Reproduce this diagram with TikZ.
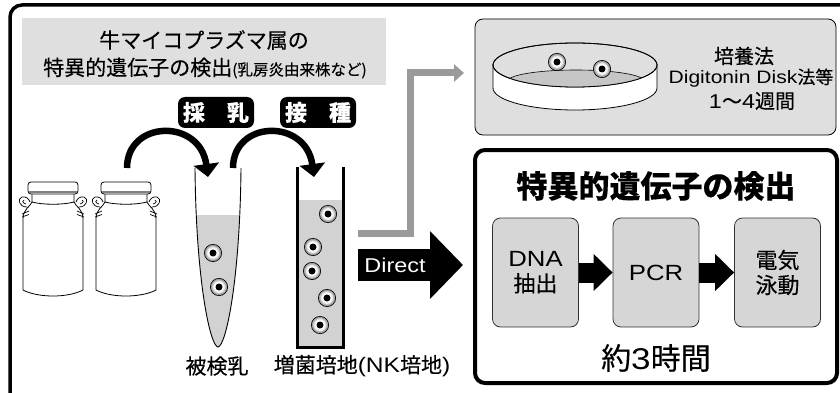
\documentclass[tikz,border=0pt]{standalone}
\usepackage{fontspec}
\setmainfont{Noto Sans CJK JP}[FakeBold=0.3]
\newfontfamily\latin{Liberation Sans}[FakeStretch=1.17]
\usetikzlibrary{arrows.meta}

\definecolor{panelgray}{HTML}{DFDFDF}
\definecolor{liquid}{HTML}{D2D2D2}
\definecolor{stepgray}{HTML}{D6D6D6}
\definecolor{floorgray}{HTML}{C6C6C6}
\definecolor{routegray}{HTML}{9A9A9A}

\newcommand{\fsz}[1]{\fontsize{#1pt}{#1pt}\selectfont}

\tikzset{
  panel/.style={fill=panelgray, draw=black, line width=0.8pt, rounded corners=8pt},
  tag/.style={fill=black, text=white, rounded corners=7pt, minimum width=76pt,
              minimum height=31pt, inner sep=0pt, font=\fsz{22}\bfseries},
  stepbox/.style={fill=stepgray, draw=black!80, line width=0.8pt, rounded corners=8pt,
                  minimum width=86pt, minimum height=109pt, inner sep=0pt,
                  align=center, font=\fsz{22}},
  curvarrow/.style={line width=6.5pt, -{Triangle[length=13pt,width=25pt]}},
  steparrow/.style={line width=20pt, -{Triangle[length=19pt,width=36pt]}},
  tubelabel/.style={font=\fsz{21}, inner sep=0pt},
  cell/.pic={
    \fill[black] (0,0) circle (9);
    \fill[gray!75] (0,0) circle (8.2);
    \fill[gray!45] (0,0) circle (7);
    \fill[gray!15] (0,0) circle (6);
    \fill[white] (0,0) circle (5);
    \fill[black] (0,0) circle (3.5);
  },
  milkcan/.pic={
    % body with shoulders
    \filldraw[fill=white, line width=0.8pt]
      (-21,202) .. controls (-23,207) and (-30,209) .. (-30,219)
      -- (-30,290) .. controls (-15,298) and (15,298) .. (30,290)
      -- (30,219) .. controls (30,209) and (23,207) .. (21,202) -- cycle;
    % neck
    \filldraw[fill=white, line width=0.8pt]
      (-21,193) -- (-21,202) .. controls (-10,205) and (10,205) .. (21,202) -- (21,193) -- cycle;
    % lid
    \filldraw[fill=white, line width=0.8pt, rounded corners=3pt] (-25,182) rectangle (25,194);
    \draw[gray, line width=1.8pt] (-24,191.6) -- (24,191.6);
    % handles
    \draw[line width=0.7pt] (-26,207) .. controls (-34,207) and (-36,199) .. (-31,197)
      .. controls (-27,196) and (-24,199) .. (-23,202);
    \draw[line width=0.7pt] (-27,204) .. controls (-31,203) and (-31,200) .. (-29,200);
    \draw[line width=0.7pt] (26,207) .. controls (34,207) and (36,199) .. (31,197)
      .. controls (27,196) and (24,199) .. (23,202);
    \draw[line width=0.7pt] (27,204) .. controls (31,203) and (31,200) .. (29,200);
    % clips below the handles
    \draw[line width=0.7pt] (-31,214) -- (-24,211) (-31,217) -- (-24,214.5);
    \draw[line width=0.7pt] (31,214) -- (24,211) (31,217) -- (24,214.5);
  }
}

\begin{document}
\begin{tikzpicture}[x=1pt, y=-1pt]
\useasboundingbox (0,0) rectangle (840,393);
\fill[white] (0,0) rectangle (840,393);
\clip (0,0) rectangle (840,393);

% outer frame
\draw[line width=3.5pt, rounded corners=12pt] (10,5) rectangle (880,420);

% heading panel
\node[fill=panelgray, minimum width=364pt, minimum height=67pt, inner sep=0pt] (head) at (204,51.5) {};
\node[font=\fsz{21}, inner sep=0pt] (head1) at (204,40) {牛マイコプラズマ属の};
\node[font=\fsz{21}, inner sep=0pt] (head2) at (205,68) {特異的遺伝子の検出{\fsz{15.5}(乳房炎由来株など)}};

% step tags
\node[tag] (sainyu) at (216,112.5) {採　乳};
\node[tag] (sesshu) at (318,112.5) {接　種};

% milk cans
\pic at (53,0) {milkcan};
\pic at (126,0) {milkcan};

% curved transfer arrows
\coordinate (c1s) at (127,168);
\coordinate (c1e) at (208,177);
\coordinate (c2s) at (233,168);
\coordinate (c2e) at (314,177);
\draw[curvarrow] (c1s) .. controls (127,120) and (200,118) .. (c1e);
\draw[curvarrow] (c2s) .. controls (233,120) and (306,118) .. (c2e);

% conical sample tube
\begin{scope}
  \clip (195,168) .. controls (196,280) and (210,346) .. (218,347)
        .. controls (226,346) and (240,280) .. (241,168) -- cycle;
  \fill[liquid] (185,215) rectangle (250,350);
\end{scope}
\draw[line width=0.9pt] (195,168) .. controls (196,280) and (210,346) .. (218,347)
      .. controls (226,346) and (240,280) .. (241,168);
\pic at (213,253) {cell};
\pic at (219,287) {cell};

% culture tube
\fill[liquid] (297,200) rectangle (343,347);
\draw[line width=3pt] (297,167) -- (297,347) -- (343,347) -- (343,167);
\pic at (328,214) {cell};
\pic at (313,247) {cell};
\pic at (312,271) {cell};
\pic at (327,298) {cell};
\pic at (320,325) {cell};

% tube labels
\node[tubelabel] (milk) at (217,366) {被検乳};
\node[tubelabel] (broth) at (362,366) {増菌培地{\latin(NK}培地{\latin)}};

% route to culture method
\coordinate (rs) at (358,233);
\coordinate (re) at (464,73);
\draw[routegray, line width=7pt, -{Triangle[length=10pt,width=17pt]}] (rs) -| (410,73) -- (re);

% direct route
\coordinate (ds) at (358,265);
\coordinate (de) at (463,265);
\draw[line width=32pt, -{Triangle[length=33pt,width=66pt]}] (ds) -- (de);
\node[text=white, font=\latin\fsz{20}, inner sep=0pt] (direct) at (395,265) {Direct};

% culture method panel
\node[panel, minimum width=361pt, minimum height=116pt] (culture) at (655.5,77) {};
% petri dish
\filldraw[fill=white, line width=0.8pt] (493,65) -- (493,88)
   arc[start angle=180, end angle=0, x radius=82, y radius=22] -- (657,65) -- cycle;
\filldraw[fill=panelgray, line width=0.8pt] (575,65) ellipse [x radius=82, y radius=22];
\begin{scope}
  \clip (575,65) ellipse [x radius=82, y radius=22];
  \filldraw[fill=floorgray, line width=0.6pt] (576,81) ellipse [x radius=68, y radius=11];
\end{scope}
\draw[line width=0.8pt] (575,65) ellipse [x radius=82, y radius=22];
\pic at (557,62) {cell};
\pic at (602,69) {cell};
\node[font=\fsz{20}, inner sep=0pt] (cm1) at (744,56) {培養法};
\node[font=\fsz{18}, inner sep=0pt] (cm2) at (751,78) {{\latin Digitonin Disk}法等};
\node[font=\fsz{20}, inner sep=0pt] (cm3) at (752,101) {{\latin 1}～{\latin 4}週間};

% gene detection panel
\node[draw=black, line width=4pt, rounded corners=10pt, fill=white,
      minimum width=362pt, minimum height=233pt] (detect) at (656,266.5) {};
\node[font=\fsz{31}\bfseries, inner sep=0pt] (dtitle) at (656,186) {特異的遺伝子の検出};
\node[stepbox] (dna) at (535.5,272.5) {{\latin DNA}\\[3pt]抽出};
\node[stepbox] (pcr) at (656,272.5) {{\latin PCR}};
\node[stepbox] (elec) at (777.5,272.5) {電気\\[3pt]泳動};
\draw[steparrow] (dna.east) -- (pcr.west);
\draw[steparrow] (pcr.east) -- (elec.west);
\node[font=\fsz{30}, inner sep=0pt] (time) at (656,358) {約{\latin 3}時間};

\end{tikzpicture}
\end{document}
